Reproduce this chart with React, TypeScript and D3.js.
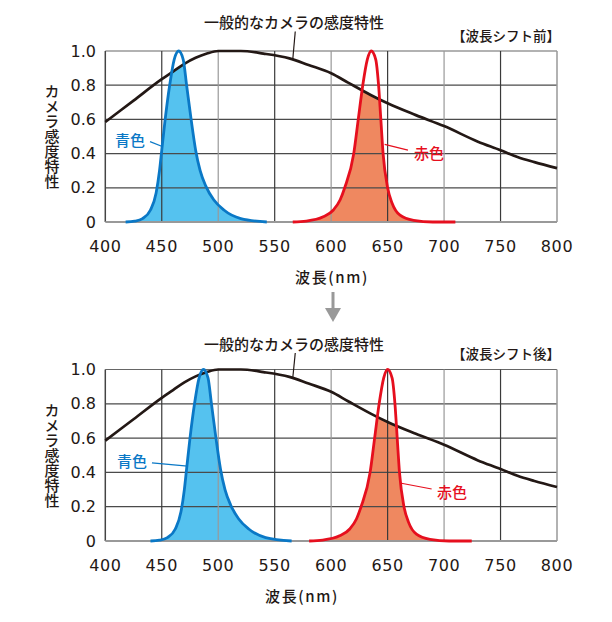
import React from 'react';
import * as d3 from 'd3';

const WAVELENGTH_TICKS = [400, 450, 500, 550, 600, 650, 700, 750, 800];
const SENS_TICKS = [0, 0.2, 0.4, 0.6, 0.8, 1.0];
const SENS_TICK_LABELS = ['0', '0.2', '0.4', '0.6', '0.8', '1.0'];

const TITLE = '一般的なカメラの感度特性';
const Y_LABEL = 'カメラ感度特性';
const X_LABEL = '波長(nm)';
const BLUE_LABEL = '青色';
const RED_LABEL = '赤色';
const BRACKET_BEFORE = '【波長シフト前】';
const BRACKET_AFTER = '【波長シフト後】';

const cameraNm = [400, 425, 450, 460, 470, 480, 490, 500, 520, 540, 563, 580, 600, 615, 635, 650, 675, 700, 730, 750, 765, 780, 800];
const cameraVal = [0.585, 0.71, 0.835, 0.88, 0.925, 0.96, 0.985, 1.0, 1.0, 0.985, 0.957, 0.918, 0.87, 0.815, 0.743, 0.694, 0.625, 0.561, 0.47, 0.42, 0.38, 0.35, 0.315];

const blueBeforeNm = [418, 426, 433, 440, 445, 448, 450, 453, 457, 461, 465, 469, 472, 476, 480, 484, 489, 496, 505, 520, 543];
const blueBeforeVal = [0, 0.005, 0.02, 0.07, 0.17, 0.3, 0.42, 0.6, 0.8, 0.95, 1.0, 0.95, 0.8, 0.6, 0.42, 0.3, 0.21, 0.13, 0.07, 0.02, 0];
const blueAfterNm = [440, 448, 455, 462, 467, 470, 472, 475, 479, 483, 487, 491, 494, 498, 502, 506, 511, 518, 527, 542, 565];
const blueAfterVal = [0, 0.005, 0.02, 0.07, 0.17, 0.3, 0.42, 0.6, 0.8, 0.95, 1.0, 0.95, 0.8, 0.6, 0.42, 0.3, 0.21, 0.13, 0.07, 0.02, 0];

const redBeforeNm = [566, 578, 593, 602, 608, 612, 620, 624, 628, 632, 635.5, 639.5, 642, 644, 646, 650, 654, 661, 673, 690, 710];
const redBeforeVal = [0, 0.005, 0.03, 0.07, 0.13, 0.2, 0.4, 0.6, 0.8, 0.95, 1.0, 0.95, 0.8, 0.6, 0.4, 0.2, 0.11, 0.04, 0.01, 0, 0];
const redAfterNm = [580.5, 592.5, 607.5, 616.5, 622.5, 626.5, 634.5, 638.5, 642.5, 646.5, 650, 654, 656.5, 658.5, 660.5, 664.5, 668.5, 675.5, 687.5, 704.5, 724.5];
const redAfterVal = [0, 0.005, 0.03, 0.07, 0.13, 0.2, 0.4, 0.6, 0.8, 0.95, 1.0, 0.95, 0.8, 0.6, 0.4, 0.2, 0.11, 0.04, 0.01, 0, 0];

const BLUE_STROKE = '#0a78c6';
const BLUE_FILL = '#55c2ef';
const RED_STROKE = '#e60f1e';
const RED_FILL = '#ef8860';
const NUM_FONT = '"DejaVu Sans", sans-serif';
const JP_FONT = '"Noto Sans CJK JP", sans-serif';
const JP_WEIGHT = 500;

const xScale = d3.scaleLinear().domain([400, 800]).range([105.3, 557]);
const cameraAt = d3.scaleLinear().domain(cameraNm).range(cameraVal);

type PanelProps = {
  id: string;
  y0: number;
  y1: number;
  titleY: number;
  bracket: string;
  bracketY: number;
  blueNm: number[];
  blueVal: number[];
  redNm: number[];
  redVal: number[];
  blueLab: { x: number; y: number; from: [number, number]; to: [number, number] };
  redLab: { x: number; y: number; from: [number, number]; to: [number, number] };
  xLabelX: number;
};

function Panel(p: PanelProps) {
  const y = d3.scaleLinear().domain([0, 1]).range([p.y0, p.y1]);
  const line = d3
    .line<[number, number]>()
    .x((d) => xScale(d[0]))
    .y((d) => y(d[1]))
    .curve(d3.curveMonotoneX);
  const area = d3
    .area<[number, number]>()
    .x((d) => xScale(d[0]))
    .y0(y(0))
    .y1((d) => y(d[1]))
    .curve(d3.curveMonotoneX);
  const cam = cameraNm.map((n, i) => [n, cameraVal[i]] as [number, number]);
  const blue = p.blueNm.map((n, i) => [n, p.blueVal[i]] as [number, number]);
  const red = p.redNm.map((n, i) => [n, p.redVal[i]] as [number, number]);
  const clipId = `cam-clip-${p.id}`;
  const left = xScale(400);
  const right = xScale(800);
  const leaderNm = 566;

  return (
    <g>
      <defs>
        <clipPath id={clipId}>
          <path d={area(cam) || ''} />
        </clipPath>
      </defs>
      <g clipPath={`url(#${clipId})`}>
        <path d={area(blue) || ''} fill={BLUE_FILL} />
        <path d={area(red) || ''} fill={RED_FILL} />
      </g>
      {SENS_TICKS.filter((t) => t > 0).map((t) => (
        <line key={`h${t}`} x1={left} x2={right} y1={y(t)} y2={y(t)} stroke={t === 1 ? '#666' : '#4a4a4a'} strokeWidth={1.2} />
      ))}
      {WAVELENGTH_TICKS.map((w, i) => (
        <line
          key={`v${w}`}
          x1={xScale(w)}
          x2={xScale(w)}
          y1={y(0)}
          y2={y(1)}
          stroke={i === 0 ? '#444' : i % 2 === 1 ? '#3a3a3a' : '#999'}
          strokeWidth={i === 0 || i === 8 ? 1.5 : 1.2}
        />
      ))}
      <line x1={left} x2={right} y1={y(0)} y2={y(0)} stroke="#999" strokeWidth={2} />
      <path d={line(cam) || ''} fill="none" stroke="#231815" strokeWidth={2.7} />
      <path d={line(blue) || ''} fill="none" stroke={BLUE_STROKE} strokeWidth={2.8} />
      <path d={line(red) || ''} fill="none" stroke={RED_STROKE} strokeWidth={2.8} />

      {SENS_TICKS.map((t, i) => (
        <text key={`yl${t}`} x={96} y={y(t)} textAnchor="end" dominantBaseline="central" fontFamily={NUM_FONT} fontSize={16} fill="#231815">
          {SENS_TICK_LABELS[i]}
        </text>
      ))}
      {WAVELENGTH_TICKS.map((w) => (
        <text key={`xl${w}`} x={xScale(w)} y={p.y0 + 24} textAnchor="middle" dominantBaseline="central" fontFamily={NUM_FONT} fontSize={16} letterSpacing={0.6} fill="#231815">
          {w}
        </text>
      ))}
      <text x={p.xLabelX} y={p.y0 + 54} textAnchor="middle" dominantBaseline="central" fontFamily={JP_FONT} fontWeight={JP_WEIGHT} fontSize={15} letterSpacing={1.6} fill="#231815">
        {X_LABEL}
      </text>
      <text
        x={52}
        y={(p.y0 + p.y1) / 2}
        textAnchor="middle"
        fontFamily={JP_FONT}
        fontWeight={JP_WEIGHT}
        fontSize={15}
        fill="#231815"
        style={{ writingMode: 'vertical-rl' } as any}
      >
        {Y_LABEL}
      </text>
      <text x={294} y={p.titleY} textAnchor="middle" dominantBaseline="central" fontFamily={JP_FONT} fontWeight={JP_WEIGHT} fontSize={15} fill="#231815">
        {TITLE}
      </text>
      <line x1={xScale(leaderNm) + 2.5} y1={p.titleY + 10} x2={xScale(leaderNm)} y2={y(cameraAt(leaderNm))} stroke="#231815" strokeWidth={1.2} />
      <text x={560} y={p.bracketY} textAnchor="end" dominantBaseline="central" fontFamily={JP_FONT} fontWeight={JP_WEIGHT} fontSize={13.5} fill="#231815">
        {p.bracket}
      </text>
      <line x1={xScale(p.blueLab.from[0])} y1={y(p.blueLab.from[1])} x2={xScale(p.blueLab.to[0])} y2={y(p.blueLab.to[1])} stroke={BLUE_STROKE} strokeWidth={1.2} />
      <text x={p.blueLab.x} y={p.blueLab.y} dominantBaseline="central" fontFamily={JP_FONT} fontWeight={JP_WEIGHT} fontSize={15} fill={BLUE_STROKE}>
        {BLUE_LABEL}
      </text>
      <line x1={xScale(p.redLab.from[0])} y1={y(p.redLab.from[1])} x2={xScale(p.redLab.to[0])} y2={y(p.redLab.to[1])} stroke={RED_STROKE} strokeWidth={1.2} />
      <text x={p.redLab.x} y={p.redLab.y} dominantBaseline="central" fontFamily={JP_FONT} fontWeight={JP_WEIGHT} fontSize={15} fill={RED_STROKE}>
        {RED_LABEL}
      </text>
    </g>
  );
}

export default function App() {
  return (
    <svg width={612} height={622} style={{ position: 'absolute', left: 0, top: 0, background: '#fff' }}>
      <rect width={612} height={622} fill="#fff" />
      <Panel
        id="before"
        y0={222}
        y1={51}
        titleY={21.5}
        bracket={BRACKET_BEFORE}
        bracketY={35}
        blueNm={blueBeforeNm}
        blueVal={blueBeforeVal}
        redNm={redBeforeNm}
        redVal={redBeforeVal}
        blueLab={{ x: 115, y: 139, from: [439.6, 0.47], to: [451, 0.44] }}
        redLab={{ x: 414, y: 152, from: [668, 0.42], to: [647.4, 0.454] }}
        xLabelX={332}
      />
      <line x1={333} x2={333} y1={292} y2={310} stroke="#999" strokeWidth={3} />
      <path d="M325,308 L341,308 L333,322 Z" fill="#999" />
      <Panel
        id="after"
        y0={541}
        y1={369.5}
        titleY={343}
        bracket={BRACKET_AFTER}
        bracketY={353}
        blueNm={blueAfterNm}
        blueVal={blueAfterVal}
        redNm={redAfterNm}
        redVal={redAfterVal}
        blueLab={{ x: 117, y: 460, from: [441.3, 0.455], to: [472.8, 0.437] }}
        redLab={{ x: 437, y: 491.5, from: [689, 0.303], to: [661, 0.338] }}
        xLabelX={302}
      />
    </svg>
  );
}
